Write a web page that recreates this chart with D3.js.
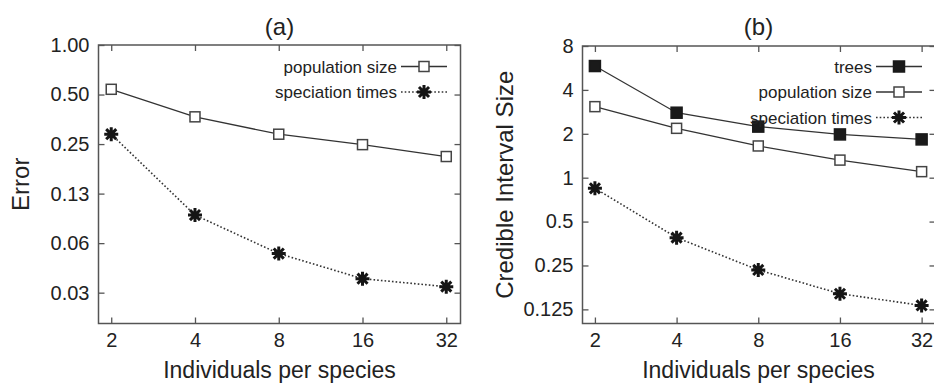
<!DOCTYPE html>
<html>
  <head>
    <meta charset="utf-8" />
    <script src="https://d3js.org/d3.v7.min.js"></script>
    <style>
        body {margin: 0; background: #fff;}
        text {font-family: "Liberation Sans", Arial, sans-serif; fill: #222;}
    </style>
  </head>
  <body>
    <svg id="viz"></svg>
    <script>
        var width = 934
        var height = 383

        // individuals per species (x axis, log2)
        var individuals = [2, 4, 8, 16, 32]

        // panel (a): error
        var errPopSize = [0.538, 0.366, 0.287, 0.248, 0.210]
        var errSpecTimes = [0.287, 0.0926, 0.054, 0.038, 0.034]
        var errTicks = [1, 0.5, 0.25, 0.125, 0.0625, 0.03125]
        var errTickLabels = ["1.00", "0.50", "0.25", "0.13", "0.06", "0.03"]

        // panel (b): credible interval size
        var ciTrees = [5.83, 2.79, 2.24, 1.98, 1.83]
        var ciPopSize = [3.07, 2.18, 1.65, 1.32, 1.10]
        var ciSpecTimes = [0.846, 0.388, 0.233, 0.160, 0.133]
        var ciTicks = [8, 4, 2, 1, 0.5, 0.25, 0.125]
        var ciTickLabels = ["8", "4", "2", "1", "0.5", "0.25", "0.125"]

        var svg = d3.select("#viz")
            .attr("width", width)
            .attr("height", height)

        var frameColor = "#555"
        var lineColor = "#333"
        var dots = "1.6,2.1"

        // gnuplot-style asterisk: a plus and a cross on top of each other
        function asterisk(g, x, y) {
            var r = 7, d = r * 0.72
            var p = "M" + (x - r) + "," + y + "H" + (x + r)
                + "M" + x + "," + (y - r) + "V" + (y + r)
                + "M" + (x - d) + "," + (y - d) + "L" + (x + d) + "," + (y + d)
                + "M" + (x - d) + "," + (y + d) + "L" + (x + d) + "," + (y - d)
            g.append("path").attr("d", p)
                .attr("stroke", "#151515").attr("stroke-width", 3).attr("fill", "none")
        }

        function square(g, x, y, filled) {
            var s = filled ? 11 : 10
            g.append("rect")
                .attr("x", x - s / 2).attr("y", y - s / 2)
                .attr("width", s).attr("height", s)
                .attr("fill", filled ? "#1a1a1a" : "#fff")
                .attr("stroke", filled ? "#1a1a1a" : "#444")
                .attr("stroke-width", 1.5)
        }

        function marker(g, type, x, y) {
            if (type === "star") asterisk(g, x, y)
            else square(g, x, y, type === "filled")
        }

        function panel(opt) {
            var g = svg.append("g")
            var x = d3.scaleLog().base(2).domain([1.8, 36]).range([opt.left, opt.right])
            var y = d3.scaleLog().base(2).domain(opt.yDomain).range([opt.bottom, opt.top])

            // frame
            g.append("rect")
                .attr("x", opt.left).attr("y", opt.top)
                .attr("width", opt.right - opt.left).attr("height", opt.bottom - opt.top)
                .attr("fill", "none").attr("stroke", frameColor).attr("stroke-width", 1.5)

            // axes with ticks pointing inwards, mirrored on top/right
            var fmt = function(d) { return opt.yLabels[opt.yTicks.indexOf(d)] }
            var axes = [
                [d3.axisBottom(x).tickValues(individuals).tickFormat(d3.format("d")), "translate(0," + opt.bottom + ")"],
                [d3.axisTop(x).tickValues(individuals).tickFormat(""), "translate(0," + opt.top + ")"],
                [d3.axisLeft(y).tickValues(opt.yTicks).tickFormat(fmt), "translate(" + opt.left + ",0)"],
                [d3.axisRight(y).tickValues(opt.yTicks).tickFormat(""), "translate(" + opt.right + ",0)"]
            ]
            axes.forEach(function(a) {
                var ax = g.append("g").attr("transform", a[1])
                    .call(a[0].tickSizeInner(-6).tickSizeOuter(0).tickPadding(9))
                ax.select(".domain").remove()
                ax.selectAll("line").attr("stroke", frameColor).attr("stroke-width", 1.3)
                ax.selectAll("text").attr("font-size", 20).attr("fill", "#222")
                    .attr("font-family", "Liberation Sans, Arial, sans-serif")
            })

            // series
            opt.series.forEach(function(s) {
                var pts = individuals.map(function(d, i) { return [x(d), y(s.values[i])] })
                g.append("path")
                    .attr("d", d3.line()(pts))
                    .attr("fill", "none")
                    .attr("stroke", lineColor)
                    .attr("stroke-width", s.dotted ? 1.6 : 1.3)
                    .attr("stroke-dasharray", s.dotted ? dots : null)
                pts.forEach(function(p) { marker(g, s.marker, p[0], p[1]) })
            })

            // legend
            opt.series.forEach(function(s, i) {
                var ly = opt.legendY + i * 25.5
                g.append("text")
                    .attr("x", opt.legendX).attr("y", ly + 6)
                    .attr("text-anchor", "end").attr("font-size", 17)
                    .text(s.name)
                g.append("line")
                    .attr("x1", opt.legendX + 4).attr("x2", opt.legendX + 50)
                    .attr("y1", ly).attr("y2", ly)
                    .attr("stroke", lineColor).attr("stroke-width", s.dotted ? 1.6 : 1.3)
                    .attr("stroke-dasharray", s.dotted ? dots : null)
                marker(g, s.marker, opt.legendX + 27, ly)
            })

            // titles
            g.append("text").attr("x", opt.titleX).attr("y", 35)
                .attr("text-anchor", "middle").attr("font-size", 24).text(opt.title)
            g.append("text").attr("x", opt.titleX).attr("y", 378)
                .attr("text-anchor", "middle").attr("font-size", 23).text("Individuals per species")
            g.append("text")
                .attr("transform", "translate(" + opt.yLabelX + "," + ((opt.top + opt.bottom) / 2) + ") rotate(-90)")
                .attr("text-anchor", "middle").attr("font-size", 24).text(opt.yLabel)
        }

        panel({
            left: 98.5, right: 460.5, top: 45, bottom: 323.5,
            yDomain: [0.0203, 1], yTicks: errTicks, yLabels: errTickLabels,
            title: "(a)", titleX: 279.5, yLabel: "Error", yLabelX: 29,
            legendX: 397, legendY: 66.5,
            series: [
                {name: "population size", values: errPopSize, marker: "open"},
                {name: "speciation times", values: errSpecTimes, marker: "star", dotted: true}
            ]
        })

        panel({
            left: 582.5, right: 935.5, top: 46, bottom: 323.5,
            yDomain: [0.1, 8], yTicks: ciTicks, yLabels: ciTickLabels,
            title: "(b)", titleX: 758.5, yLabel: "Credible Interval Size", yLabelX: 513,
            legendX: 872, legendY: 66.5,
            series: [
                {name: "trees", values: ciTrees, marker: "filled"},
                {name: "population size", values: ciPopSize, marker: "open"},
                {name: "speciation times", values: ciSpecTimes, marker: "star", dotted: true}
            ]
        })
    </script>
  </body>
</html>
